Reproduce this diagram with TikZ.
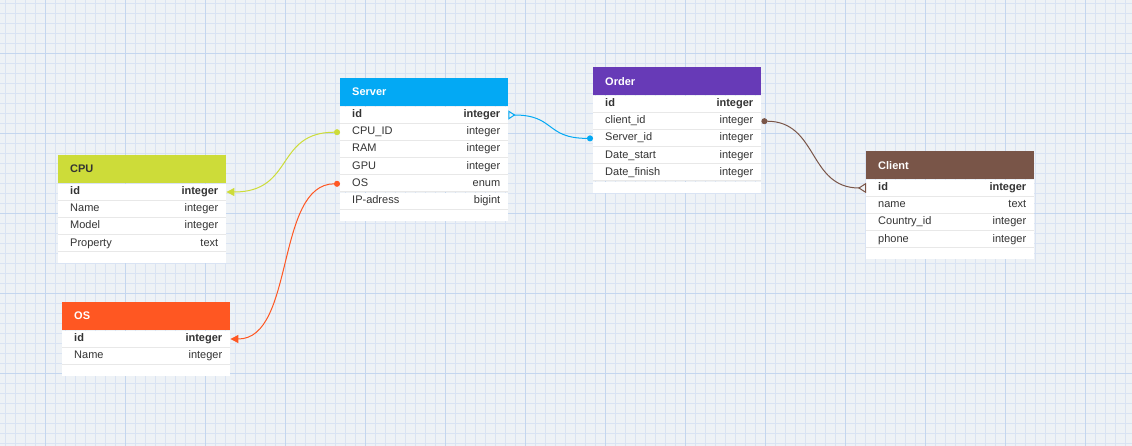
\documentclass[tikz,border=0pt]{standalone}
\usepackage{fontspec}
\setmainfont{Liberation Sans}
\usetikzlibrary{positioning, arrows.meta}

\definecolor{bgc}{HTML}{EEF2F6}
\definecolor{finec}{HTML}{D9E3F3}
\definecolor{majc}{HTML}{C4D6EF}
\definecolor{srvc}{HTML}{03A9F4}
\definecolor{ordc}{HTML}{673AB7}
\definecolor{cpuc}{HTML}{CDDC39}
\definecolor{osc}{HTML}{FF5722}
\definecolor{clic}{HTML}{795548}
\definecolor{txtc}{HTML}{333333}
\definecolor{sepc}{HTML}{E8E8E8}

\newcommand{\cells}[2]{\makebox[168pt]{\strut\hspace{12pt}#1\hfill#2\hspace{8pt}}}

\begin{document}
\begin{tikzpicture}[
        x=1pt, y=-1pt,
        font=\fontsize{11}{13}\selectfont,
        head/.style={fill=#1, anchor=north west, minimum height=28pt,
          text width=144pt, inner xsep=12pt, inner ysep=0pt, align=left,
          text=white, font=\fontsize{11}{13}\selectfont\bfseries},
        fld/.style={fill=white, minimum height=16.8pt, inner sep=0pt, text=txtc,
          append after command={([yshift=0.5pt]\tikzlastnode.south west)
            edge[draw=sepc, line width=1pt] ([yshift=0.5pt]\tikzlastnode.south east)}},
        keyfld/.style={fld, font=\fontsize{11}{13}\selectfont\bfseries},
        foot/.style={fill=white, minimum width=168pt, minimum height=11pt, inner sep=0pt},
        lnk/.style={line width=1pt}
      ]
      \useasboundingbox (0,0) rectangle (1132,446);
      % grid paper
      \fill[bgc] (0,0) rectangle (1132,446);
      \foreach \x in {5,15,...,1125} \draw[finec, line width=0.6pt] (\x,0) -- (\x,446);
      \foreach \y in {3,13,...,443} \draw[finec, line width=0.6pt] (0,\y+0.3) -- (1132,\y+0.3);
      \foreach \x in {45,125,...,1085} \draw[majc, line width=0.7pt] (\x,0) -- (\x,446);
      \foreach \y in {53,133,...,373} \draw[majc, line width=0.7pt] (0,\y+0.3) -- (1132,\y+0.3);

      % Server
      \node[head=srvc] (srv) at (340,78) {Server};
      \node[keyfld, below=0pt of srv] (srv-id) {\cells{id}{integer}};
      \node[fld, below=0pt of srv-id] (srv-cpu) {\cells{CPU\_ID}{integer}};
      \node[fld, below=0pt of srv-cpu] (srv-ram) {\cells{RAM}{integer}};
      \node[fld, below=0pt of srv-ram] (srv-gpu) {\cells{GPU}{integer}};
      \node[fld, below=0pt of srv-gpu] (srv-os) {\cells{OS}{enum}};
      \node[fld, below=0pt of srv-os] (srv-ip) {\cells{IP-adress}{bigint}};
      \node[foot, below=0pt of srv-ip] (srv-end) {};

      % Order
      \node[head=ordc] (ord) at (593,67) {Order};
      \node[keyfld, below=0pt of ord] (ord-id) {\cells{id}{integer}};
      \node[fld, below=0pt of ord-id] (ord-cli) {\cells{client\_id}{integer}};
      \node[fld, below=0pt of ord-cli] (ord-srv) {\cells{Server\_id}{integer}};
      \node[fld, below=0pt of ord-srv] (ord-start) {\cells{Date\_start}{integer}};
      \node[fld, below=0pt of ord-start] (ord-fin) {\cells{Date\_finish}{integer}};
      \node[foot, below=0pt of ord-fin] (ord-end) {};

      % CPU
      \node[head=cpuc, text=txtc] (cpu) at (58,155) {CPU};
      \node[keyfld, below=0pt of cpu] (cpu-id) {\cells{id}{integer}};
      \node[fld, below=0pt of cpu-id] (cpu-name) {\cells{Name}{integer}};
      \node[fld, below=0pt of cpu-name] (cpu-model) {\cells{Model}{integer}};
      \node[fld, below=0pt of cpu-model] (cpu-prop) {\cells{Property}{text}};
      \node[foot, below=0pt of cpu-prop] (cpu-end) {};

      % OS
      \node[head=osc] (os) at (62,302) {OS};
      \node[keyfld, below=0pt of os] (os-id) {\cells{id}{integer}};
      \node[fld, below=0pt of os-id] (os-name) {\cells{Name}{integer}};
      \node[foot, below=0pt of os-name] (os-end) {};

      % Client
      \node[head=clic] (cli) at (866,151) {Client};
      \node[keyfld, below=0pt of cli] (cli-id) {\cells{id}{integer}};
      \node[fld, below=0pt of cli-id] (cli-name) {\cells{name}{text}};
      \node[fld, below=0pt of cli-name] (cli-country) {\cells{Country\_id}{integer}};
      \node[fld, below=0pt of cli-country] (cli-phone) {\cells{phone}{integer}};
      \node[foot, below=0pt of cli-phone] (cli-end) {};

      % relations
      \draw[lnk, cpuc, {Circle[length=6pt]}-{Triangle[length=8pt,width=8pt]}]
        (srv-cpu.west) .. controls +(-65,0) and +(68,0) .. (cpu-id.east);
      \draw[lnk, osc, {Circle[length=6pt]}-{Triangle[length=8pt,width=8pt]}]
        (srv-os.west) .. controls +(-65,0) and +(65,0) .. (os-id.east);
      \draw[lnk, srvc, {Triangle[open,reversed,length=7pt,width=9pt]}-{Circle[length=6pt]}]
        (srv-id.east) .. controls +(47,0) and +(-48,0) .. (ord-srv.west);
      \draw[lnk, clic, {Circle[length=6pt]}-{Triangle[open,reversed,length=8pt,width=10pt]}]
        (ord-cli.east) .. controls +(57,0) and +(-58,0) .. (cli-id.west);
    \end{tikzpicture}
\end{document}
